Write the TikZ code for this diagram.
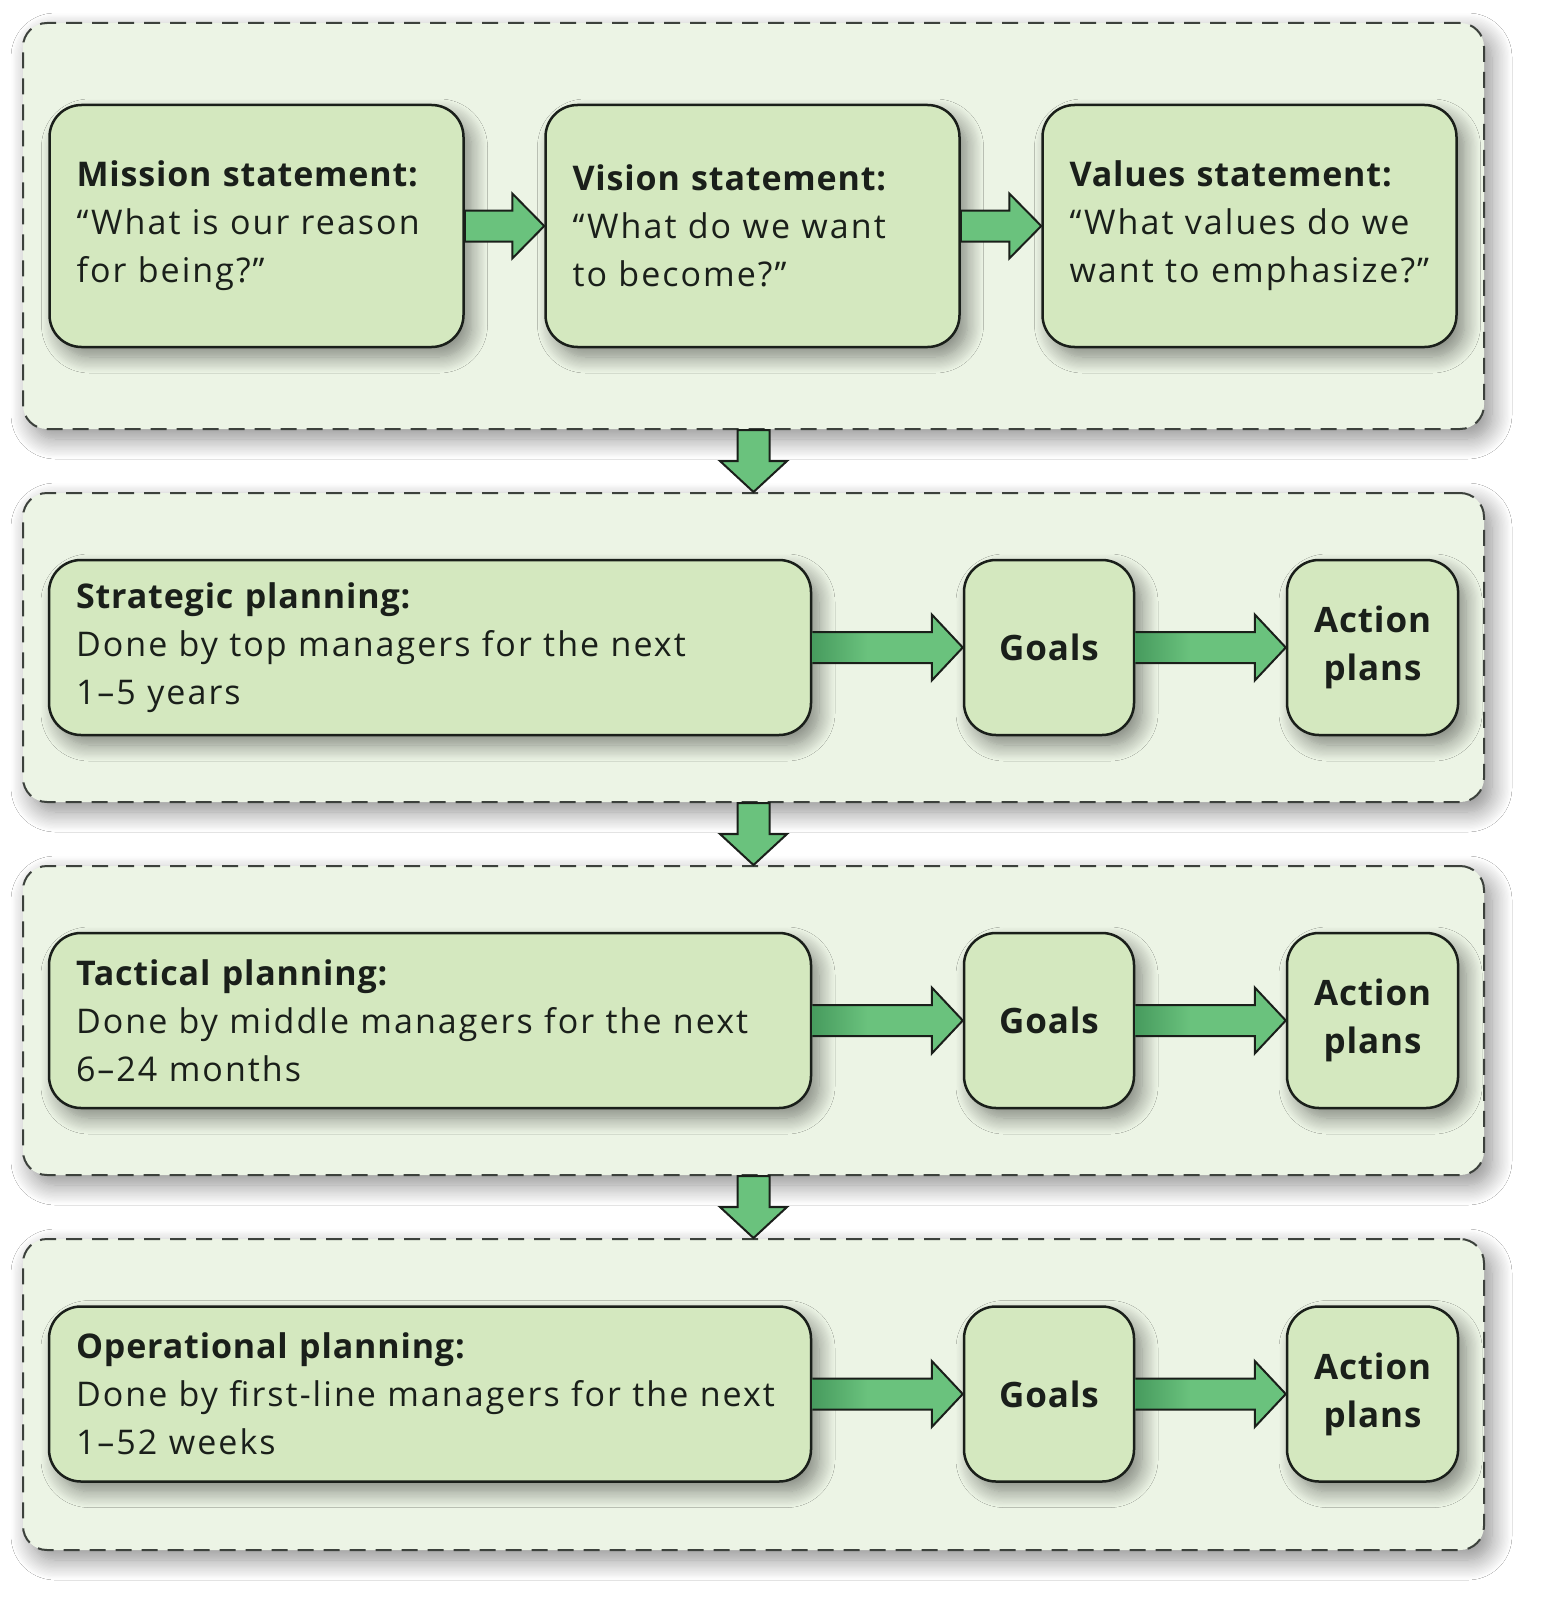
\documentclass[tikz,border=0pt]{standalone}
\usepackage{fontspec}
\setmainfont{Open Sans}[UprightFeatures={LetterSpace=6}, BoldFeatures={LetterSpace=2.5}]
\usetikzlibrary{positioning,calc,shadows.blur}

\definecolor{panelfill}{HTML}{ECF4E5}
\definecolor{boxfill}{HTML}{D4E8BF}
\definecolor{arrowgreen}{HTML}{6AC27D}
\definecolor{arrowdark}{HTML}{479B5E}
\definecolor{inkline}{HTML}{1A1F1A}

\begin{document}
\begin{tikzpicture}[x=1pt, y=-1pt,
  every node/.style={font=\fontsize{34}{48}\selectfont, text=inkline},
  panel/.style={draw=inkline!85, line width=2pt, dash pattern=on 16pt off 10pt, fill=panelfill, rounded corners=24pt, minimum width=1461pt, blur shadow={shadow xshift=8pt, shadow yshift=-10pt, shadow blur radius=20pt, shadow blur steps=16, shadow opacity=45}},
  box/.style={draw=inkline, line width=2.5pt, fill=boxfill, rounded corners=32pt, inner xsep=27pt, inner ysep=0pt, align=left, blur shadow={shadow xshift=8pt, shadow yshift=-10pt, shadow blur radius=16pt, shadow blur steps=14, shadow opacity=45}},
  statebox/.style={box, minimum width=414pt, minimum height=242pt, text width=360pt},
  planbox/.style={box, minimum width=762pt, minimum height=175pt, text width=708pt},
  smallbox/.style={box, minimum width=170pt, minimum height=175pt, align=center, font=\fontsize{35}{48}\selectfont\bfseries},
  fatarrow/.style={draw=inkline, line width=2pt, fill=arrowgreen, line join=miter}]

\fill[white] (0,0) rectangle (1550,1616);
\useasboundingbox (0,0) rectangle (1550,1616);

% stages
\node[panel, minimum height=406pt] (stage1) at (753.5,226) {};
\node[panel, minimum height=309pt] (stage2) at (753.5,647.5) {};
\node[panel, minimum height=309pt] (stage3) at (753.5,1020.5) {};
\node[panel, minimum height=311pt] (stage4) at (753.5,1394.5) {};

% statements
\node[statebox] (mission) at (256.5,226) {\textbf{Mission statement:}\\“What is our reason\\for being?”};
\node[statebox, right=79.5pt of mission] (vision) {\textbf{Vision statement:}\\“What do we want\\to become?”};
\node[statebox, right=80.5pt of vision] (values) {\textbf{Values statement:}\\“What values do we\\want to emphasize?”};

% planning levels
\node[planbox] (strat) at (430,647.5) {\textbf{Strategic planning:}\\Done by top managers for the next\\1–5 years};
\node[smallbox, right=150.5pt of strat] (stratgoals) {Goals};
\node[smallbox, right=150.5pt of stratgoals] (stratplans) {Action\\plans};

\node[planbox] (tact) at (430,1020.5) {\textbf{Tactical planning:}\\Done by middle managers for the next\\6–24 months};
\node[smallbox, right=150.5pt of tact] (tactgoals) {Goals};
\node[smallbox, right=150.5pt of tactgoals] (tactplans) {Action\\plans};

\node[planbox] (oper) at (430,1394) {\textbf{Operational planning:}\\Done by first-line managers for the next\\1–52 weeks};
\node[smallbox, right=150.5pt of oper] (opergoals) {Goals};
\node[smallbox, right=150.5pt of opergoals] (operplans) {Action\\plans};

% arrows between statements
\foreach \a/\b in {mission/vision, vision/values}
  \draw[fatarrow] ($(\a.east)+(0,-15.5)$) -- ($(\b.west)+(-32,-15.5)$) -- ++(0,-17) -- (\b.west) -- ($(\b.west)+(-32,32.5)$) -- ++(0,-17) -- ($(\a.east)+(0,15.5)$) -- cycle;

% arrows in planning rows
\foreach \a/\b in {strat/stratgoals, stratgoals/stratplans, tact/tactgoals, tactgoals/tactplans, oper/opergoals, opergoals/operplans} {
  \fill[arrowgreen] ($(\a.east)+(0,-15.5)$) -- ($(\b.west)+(-31,-15.5)$) -- ++(0,-17.5) -- (\b.west) -- ($(\b.west)+(-31,33)$) -- ++(0,-17.5) -- ($(\a.east)+(0,15.5)$) -- cycle;
  \shade[left color=arrowdark, right color=arrowgreen] ($(\a.east)+(0,-15.5)$) rectangle ($(\a.east)+(55,15.5)$);
  \draw[fatarrow, fill=none] ($(\a.east)+(0,-15.5)$) -- ($(\b.west)+(-31,-15.5)$) -- ++(0,-17.5) -- (\b.west) -- ($(\b.west)+(-31,33)$) -- ++(0,-17.5) -- ($(\a.east)+(0,15.5)$);
}

% arrows between stages
\foreach \a/\b in {stage1/stage2, stage2/stage3, stage3/stage4}
  \draw[fatarrow] ($(\a.south)+(-16,0)$) -- ($(\b.north)+(-16,-31)$) -- ++(-17.5,0) -- (\b.north) -- ($(\b.north)+(33.5,-31)$) -- ++(-17.5,0) -- ($(\a.south)+(16,0)$) -- cycle;

\end{tikzpicture}
\end{document}
